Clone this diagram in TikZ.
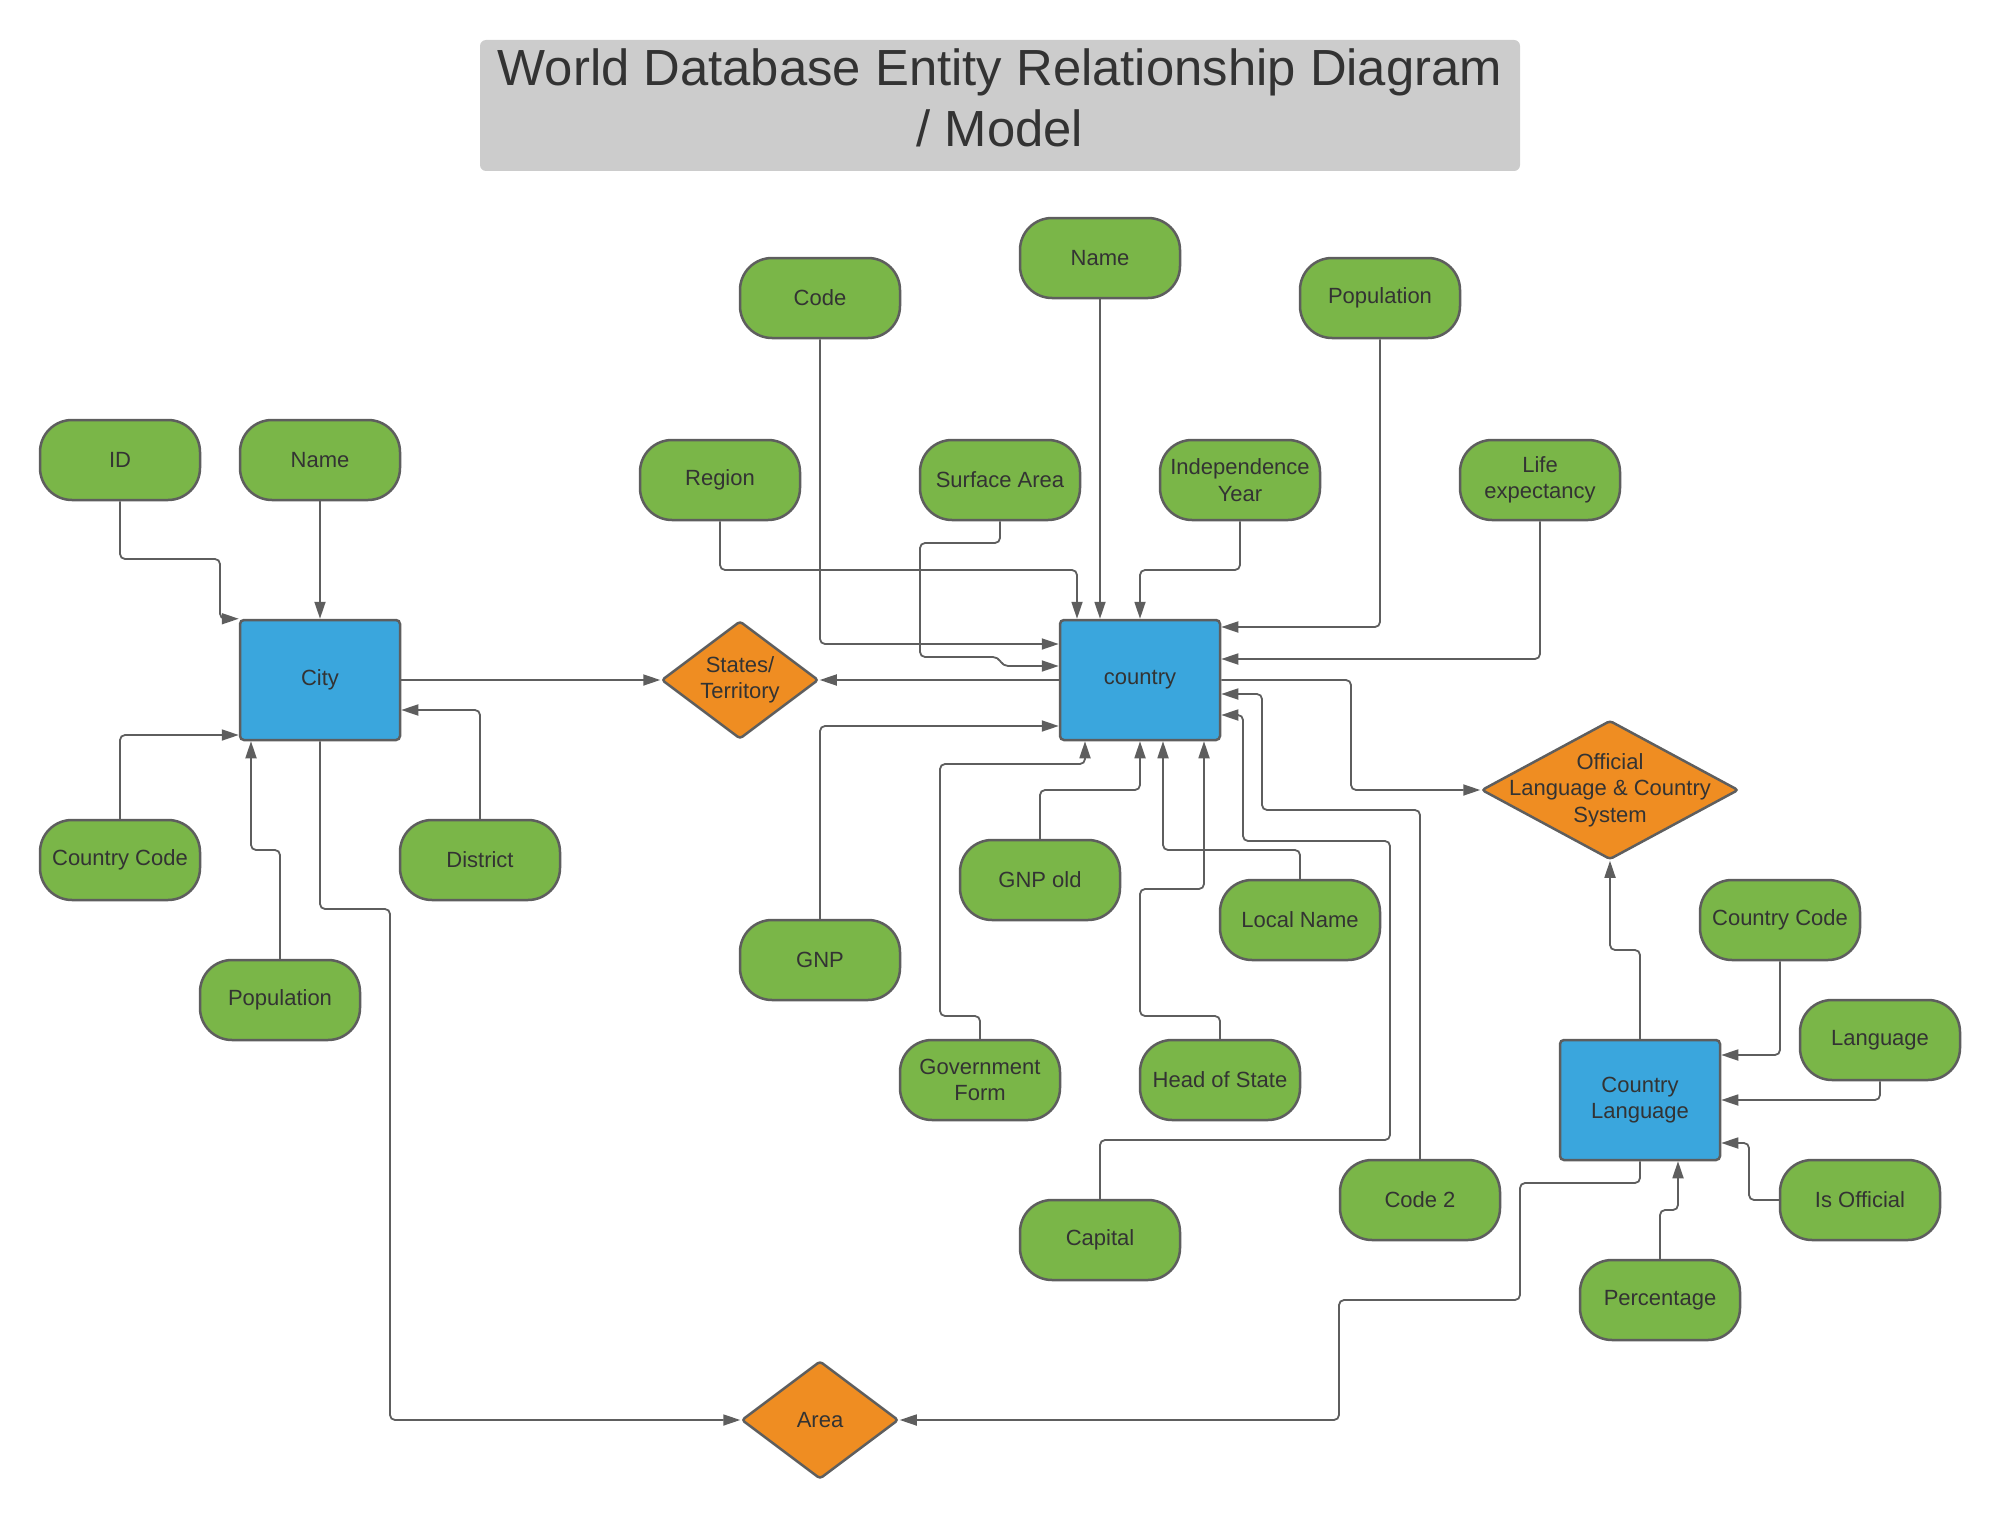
\documentclass[tikz,border=0pt]{standalone}
\usepackage{fontspec}
\setmainfont{Liberation Sans}
\usetikzlibrary{arrows.meta,shapes.geometric}
\definecolor{attrgreen}{HTML}{7AB648}
\definecolor{entityblue}{HTML}{3AA6DD}
\definecolor{relorange}{HTML}{EF8D22}
\definecolor{linegray}{HTML}{5E5E5E}
\definecolor{textgray}{HTML}{333333}
\definecolor{titlegray}{HTML}{CCCCCC}

\begin{document}
\begin{tikzpicture}[x=0.5pt, y=-0.5pt,
		every node/.style={text=textgray, font=\fontsize{11}{13.3}\selectfont, align=center},
		attr/.style={rectangle, rounded corners=16pt, draw=linegray, line width=1.25pt, fill=attrgreen,
			minimum width=80pt, minimum height=40pt, inner sep=1pt},
		entity/.style={rectangle, rounded corners=2pt, draw=linegray, line width=1.25pt, fill=entityblue,
			minimum width=80pt, minimum height=60pt},
		rel/.style={diamond, rounded corners=1.5pt, draw=linegray, line width=1.25pt, fill=relorange,
			inner sep=0pt, minimum width=78.5pt, minimum height=59pt},
		arr/.style={draw=linegray, line width=0.9pt, rounded corners=2.5pt, -{Triangle[length=8.5pt, width=5.5pt]}}]
		\useasboundingbox (0,0) rectangle (2004,1520);
		\fill[titlegray, rounded corners=3pt] (480,40) rectangle (1520,171);
		\node[font=\fontsize{25.4}{30.5}\selectfont] (title) at (1000,98)
			{World Database Entity Relationship Diagram\\/ Model};

		\node[attr] (id) at (120,460) {ID};
		\node[attr] (cname) at (320,460) {Name};
		\node[entity] (city) at (320,680) {City};
		\node[attr] (ccode) at (120,860) {Country Code};
		\node[attr] (district) at (480,860) {District};
		\node[attr] (cpop) at (280,1000) {Population};

		\node[attr] (code) at (820,298) {Code};
		\node[attr] (name) at (1100,258) {Name};
		\node[attr] (pop) at (1380,298) {Population};
		\node[attr] (region) at (720,480) {Region};
		\node[attr] (surface) at (1000,480) {Surface Area};
		\node[attr] (indep) at (1240,480) {Independence\\Year};
		\node[attr] (life) at (1540,480) {Life\\expectancy};
		\node[entity] (country) at (1140,680) {country};
		\node[rel, label={center:{States/\\Territory}}] (states) at (740,680) {};
		\node[attr] (gnp) at (820,960) {GNP};
		\node[attr] (gnpold) at (1040,880) {GNP old};
		\node[attr] (localname) at (1300,920) {Local Name};
		\node[attr] (govform) at (980,1080) {Government\\Form};
		\node[attr] (head) at (1220,1080) {Head of State};
		\node[attr] (capital) at (1100,1240) {Capital};
		\node[attr] (code2) at (1420,1200) {Code 2};

		\node[rel, minimum width=128.5pt, minimum height=69.5pt,
			label={center:{Official\\Language \& Country\\System}}] (official) at (1610,790) {};
		\node[entity] (clang) at (1640,1100) {Country\\Language};
		\node[attr] (cc2) at (1780,920) {Country Code};
		\node[attr] (language) at (1880,1040) {Language};
		\node[attr] (isofficial) at (1860,1200) {Is Official};
		\node[attr] (percentage) at (1660,1300) {Percentage};
		\node[rel, label={center:Area}] (area) at (820,1420) {};

		\draw[arr] (id.south) |- (220,559) |- (city.north west);
		\draw[arr] (cname.south) -- (city.north);
		\draw[arr] (ccode.north) |- (city.west |- 0,735);
		\draw[arr] (cpop.north) |- (251,850) -- (city.south -| 251,0);
		\draw[arr] (district.north) |- (city.east |- 0,710);
		\draw[arr] (city.east) -- (states.west);
		\draw[arr] (city.south) |- (390,909) |- (area.west);
		\draw[arr] (country.west) -- (states.east);
		\draw[arr] (code.south) |- (country.west |- 0,644);
		\draw[arr] (region.south) |- (1077,570) -- (country.north -| 1077,0);
		\draw[arr] (name.south) -- (name.south |- country.north);
		\draw[arr] (indep.south) |- (country.north |- 0,570) -- (country.north);
		\draw[arr] (surface.south) |- (920,543) |- (998,657) -- (1003,666) -- (country.west |- 0,666);
		\draw[arr] (pop.south) |- (country.east |- 0,627);
		\draw[arr] (life.south) |- (country.east |- 0,659);
		\draw[arr] (country.east) -| (1351,790) -- (official.west);
		\draw[arr] (code2.north) |- (1262,810) |- (country.east |- 0,694);
		\draw[arr] (capital.north) |- (1390,1140) |- (1243,841) |- (country.east |- 0,715);
		\draw[arr] (gnp.north) |- (country.west |- 0,726);
		\draw[arr] (govform.north) |- (940,1016) |- (1085,764) -- (country.south -| 1085,0);
		\draw[arr] (gnpold.north) |- (country.south |- 0,790) -- (country.south);
		\draw[arr] (localname.north) |- (1163,850) -- (country.south -| 1163,0);
		\draw[arr] (head.north) |- (1140,1016) |- (1204,889) -- (country.south -| 1204,0);
		\draw[arr] (clang.north) |- (1610,950) -- (official.south);
		\draw[arr] (cc2.south) |- (clang.east |- 0,1055);
		\draw[arr] (language.south) |- (clang.east |- 0,1100);
		\draw[arr] (isofficial.west) -| (1749,1143) -- (clang.east |- 0,1143);
		\draw[arr] (percentage.north) |- (1678,1210) -- (clang.south -| 1678,0);
		\draw[arr] (clang.south) |- (1520,1183) |- (1339,1300) |- (area.east);
\end{tikzpicture}
\end{document}
